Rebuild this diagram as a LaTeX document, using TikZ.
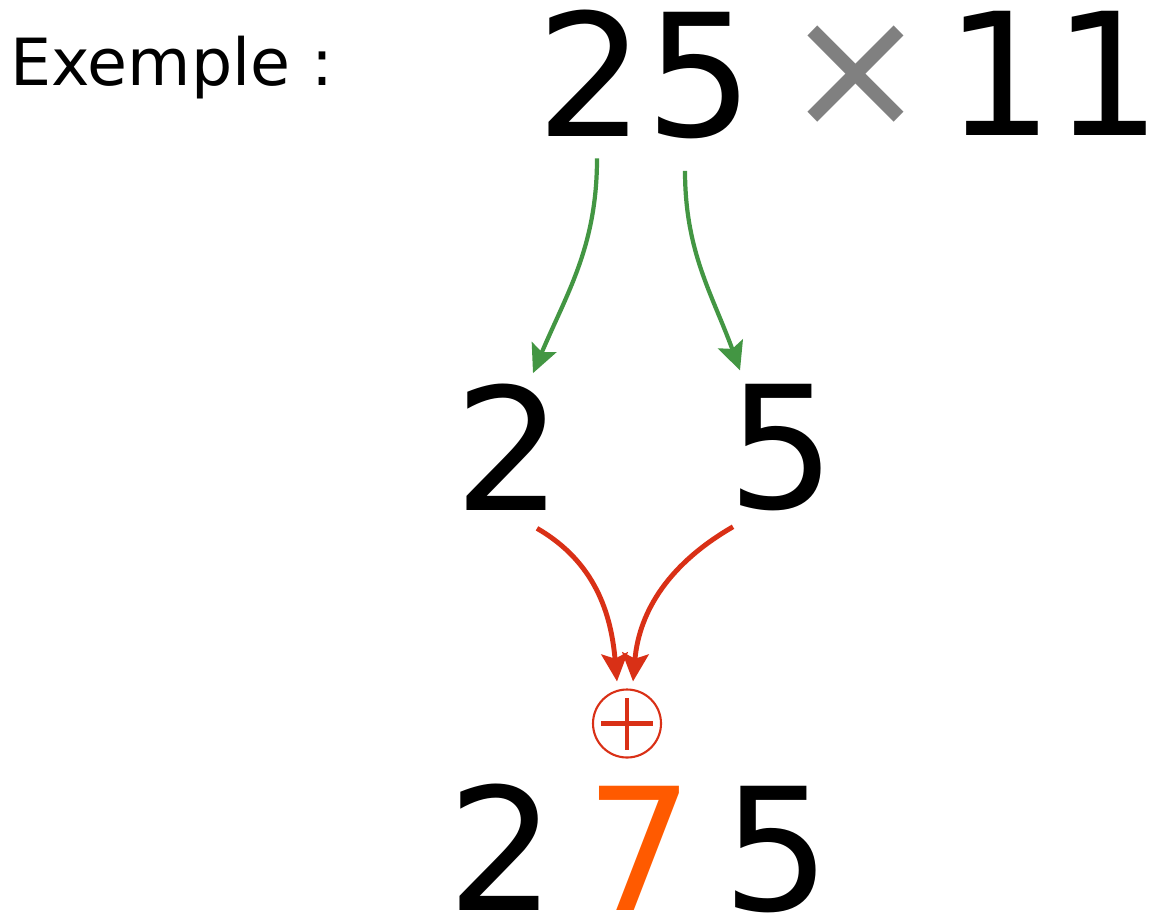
\documentclass[tikz,border=0pt]{standalone}
\usepackage{fontspec}
\setmainfont{DejaVu Sans}
\usetikzlibrary{arrows.meta,positioning}
\definecolor{arrowgreen}{RGB}{67,150,67}
\definecolor{sumred}{RGB}{217,48,22}
\definecolor{digitorange}{RGB}{255,90,0}
\definecolor{crossgray}{RGB}{128,128,128}

\begin{document}
\begin{tikzpicture}[
digit/.style={inner sep=0pt,anchor=base,font=\fontsize{97}{97}\selectfont},
green arrow/.style={draw=arrowgreen,line width=2.4pt,-{Stealth[length=16pt,width=15pt,inset=3pt]}},
red arrow/.style={draw=sumred,line width=2.8pt,-{Stealth[length=16pt,width=15pt,inset=3pt]}},]
\useasboundingbox (0,0) rectangle (23.1,-18.32);
\node[inner sep=0pt,anchor=base west,font=\fontsize{37}{37}\selectfont] (label) at (0.2,-1.7) {Exemple :};
% the product
\node[digit] (topTwo) at (11.82,-2.72) {2};
\node[digit] (topFive) at (14.0,-2.72) {5};
\node[digit,text=crossgray] (times) at (17.12,-2.54) {×};
\node[digit] (eleven) at (21.08,-2.7) {11};
% split digits
\node[digit] (midTwo) at (10.18,-10.2) {2};
\node[digit] (midFive) at (15.64,-10.16) {5};
\node[circle,draw=sumred,line width=1.2pt,minimum size=1.36cm,inner sep=0pt] (plus) at (12.54,-14.47) {};
\draw[sumred,line width=2.8pt] ([xshift=-0.52cm]plus.center) -- ([xshift=0.52cm]plus.center);
\draw[sumred,line width=2.8pt] ([yshift=-0.52cm]plus.center) -- ([yshift=0.52cm]plus.center);
% result
\node[digit] (resTwo) at (10.04,-18.2) {2};
\node[digit,text=digitorange] (resSeven) at (12.8,-18.2) {7};
\node[digit] (resFive) at (15.54,-18.2) {5};

\draw[green arrow] ([shift={(0.12,-0.44)}]topTwo.south) to[out=-90,in=67] ([shift={(0.48,0.2)}]midTwo.north);
\draw[green arrow] ([shift={(-0.3,-0.64)}]topFive.south) to[out=-90,in=110] ([shift={(-0.84,0.26)}]midFive.north);
\draw[red arrow] ([shift={(0.56,-0.36)}]midTwo.south) to[out=-30,in=95] ([shift={(-0.2,0.14)}]plus.north);
\draw[red arrow] ([shift={(-0.98,-0.32)}]midFive.south) to[out=-150,in=85] ([shift={(0.12,0.14)}]plus.north);
\end{tikzpicture}
\end{document}
